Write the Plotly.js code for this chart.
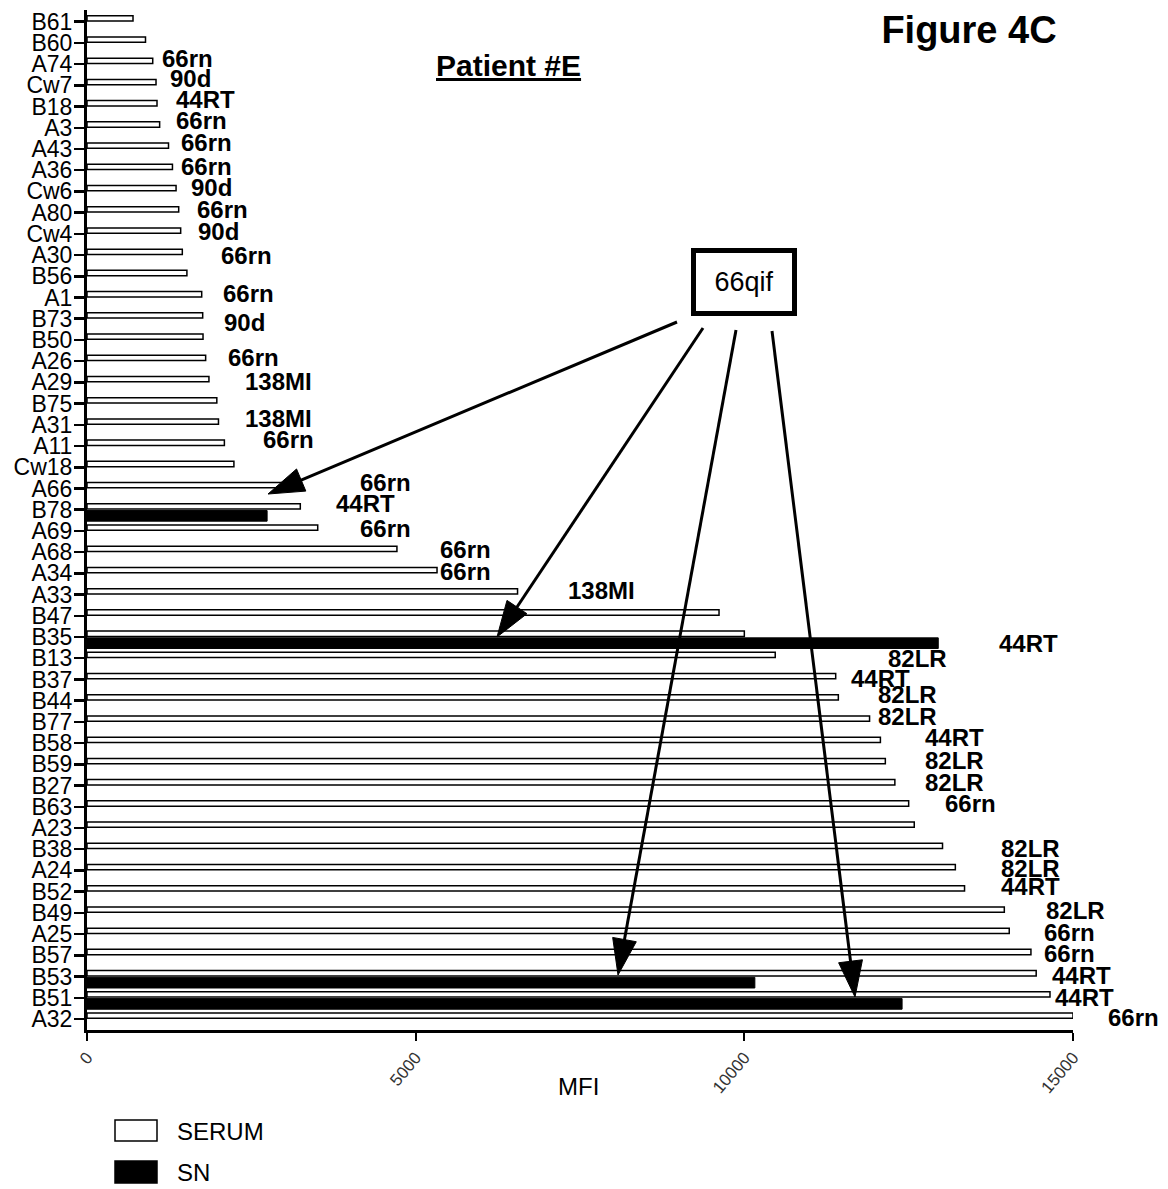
<!DOCTYPE html>
<html><head><meta charset="utf-8">
<script src="https://cdn.plot.ly/plotly-3.0.1.min.js"></script>
<style>html,body{margin:0;padding:0;background:#fff}</style>
</head><body><div id="chart" style="width:1168px;height:1189px"></div>
<script>
// ---- data ----
const categories = ['B61','B60','A74','Cw7','B18','A3','A43','A36','Cw6','A80','Cw4','A30','B56','A1','B73','B50','A26','A29','B75','A31','A11','Cw18','A66','B78','A69','A68','A34','A33','B47','B35','B13','B37','B44','B77','B58','B59','B27','B63','A23','B38','A24','B52','B49','A25','B57','B53','B51','A32'];
const serumValues = [700,890,1000,1050,1065,1105,1240,1300,1355,1395,1425,1450,1520,1745,1760,1765,1805,1855,1975,2000,2090,2235,3050,3245,3510,4715,5325,6550,9615,10000,10470,11390,11430,11905,12070,12145,12290,12500,12585,13015,13210,13350,13955,14030,14360,14440,14650,15000];
const snCategories = ['B78','B35','B53','B51'];
const snValues = [2740,12950,10160,12400];
const xTickValues = [0,5000,10000,15000];
const xTickLabels = ['0','5000','10000','15000'];
const epitopeLabels = ['66rn','90d','44RT','66rn','66rn','66rn','90d','66rn','90d','66rn','66rn','90d','66rn','138MI','138MI','66rn','66rn','44RT','66rn','66rn','66rn','138MI','44RT','82LR','44RT','82LR','82LR','44RT','82LR','82LR','66rn','82LR','82LR','44RT','82LR','66rn','66rn','44RT','44RT','66rn'];
const seriesNames = ['SERUM','SN'];

// ---- layout helpers (pixel positions of decorations) ----
const L = 87, R = 1073, T = 10, B = 1030;
function P(px, py){ return [(px - L)/(R - L), (B - py)/(B - T)]; }
const labelPx = [[187,58],[190,79],[205,99],[201,121],[206,143],[206,166],[211,187],[222,210],[218,231],[246,255],[248,293],[244,322],[253,357],[278,381],[278,418],[288,440],[385,482],[365,504],[385,528],[465,549],[465,571],[601,590],[1028,643],[917,658],[880,678],[907,694],[907,716],[954,737],[954,760],[954,782],[970,803],[1030,848],[1030,868],[1030,886],[1075,910],[1069,932],[1069,953],[1081,975],[1084,997],[1133,1017]];

const annotations = epitopeLabels.map((t,i)=>{
  const p = P(labelPx[i][0], labelPx[i][1]);
  return {text:t, xref:'paper', yref:'paper', x:p[0], y:p[1], xanchor:'center', yanchor:'middle', showarrow:false,
          font:{family:'Liberation Sans, Arial, sans-serif', size:24, color:'#000', weight:'bold'}};
});
// box
const pb = P(744, 282);
annotations.push({text:'66qif', xref:'paper', yref:'paper', x:pb[0], y:pb[1], xanchor:'center', yanchor:'middle', showarrow:false,
  width:86, height:48, borderpad:5, borderwidth:5, bordercolor:'#000', bgcolor:'#fff',
  font:{family:'Liberation Sans, Arial, sans-serif', size:27, color:'#000'}});
// Patient #E
const pp = P(508, 65);
annotations.push({text:'<b><u>Patient #E</u></b>', xref:'paper', yref:'paper', x:pp[0], y:pp[1], xanchor:'center', yanchor:'middle', showarrow:false,
  font:{family:'Liberation Sans Narrow, Liberation Sans, Arial, sans-serif', size:30, color:'#000'}});
// MFI
const pm = P(578, 1086);
annotations.push({text:'MFI', xref:'paper', yref:'paper', x:pm[0], y:pm[1], xanchor:'center', yanchor:'middle', showarrow:false,
  font:{family:'Liberation Sans, Arial, sans-serif', size:24, color:'#000'}});
// legend text
const ps = P(175, 1131), pn = P(175, 1172);
annotations.push({text:seriesNames[0], xref:'paper', yref:'paper', x:ps[0], y:ps[1], xanchor:'left', yanchor:'middle', showarrow:false,
  font:{family:'Liberation Sans, Arial, sans-serif', size:24, color:'#000'}});
annotations.push({text:seriesNames[1], xref:'paper', yref:'paper', x:pn[0], y:pn[1], xanchor:'left', yanchor:'middle', showarrow:false,
  font:{family:'Liberation Sans, Arial, sans-serif', size:24, color:'#000'}});

// shapes: arrows + legend swatches
const shapes = [];
function arrow(tx, ty, hx, hy){
  const dx = hx - tx, dy = hy - ty, len = Math.hypot(dx, dy);
  const ux = dx/len, uy = dy/len, nx = -uy, ny = ux;
  const hl = 36, hw = 12;
  const bx = hx - ux*hl, by = hy - uy*hl;
  const a = P(tx, ty), b = P(bx + ux*2, by + uy*2);
  shapes.push({type:'line', xref:'paper', yref:'paper', x0:a[0], y0:a[1], x1:b[0], y1:b[1], line:{color:'#000', width:3}});
  const h = P(hx, hy), c1 = P(bx + nx*hw, by + ny*hw), c2 = P(bx - nx*hw, by - ny*hw);
  shapes.push({type:'path', xref:'paper', yref:'paper', path:`M${h[0]},${h[1]} L${c1[0]},${c1[1]} L${c2[0]},${c2[1]} Z`,
    fillcolor:'#000', line:{color:'#000', width:1}});
}
arrow(677, 322, 268, 494);
arrow(703, 328, 497, 637);
arrow(736, 330, 618, 975);
arrow(772, 331, 855, 997);
function rect(x0, y0, x1, y1, fill){
  const a = P(x0, y0), b = P(x1, y1);
  shapes.push({type:'rect', xref:'paper', yref:'paper', x0:a[0], y0:a[1], x1:b[0], y1:b[1], fillcolor:fill, line:{color:'#000', width:1.5}});
}
rect(115, 1120, 157, 1141, '#fff');
rect(115, 1161, 157, 1183, '#000');

const traces = [
  {type:'bar', orientation:'h', name:seriesNames[0], y:categories, x:serumValues, offset:-0.28, width:0.25,
   marker:{color:'#fff', line:{color:'#000', width:1.5}}, showlegend:false},
  {type:'bar', orientation:'h', name:seriesNames[1], y:snCategories, x:snValues, offset:0.04, width:0.5,
   marker:{color:'#000', line:{color:'#000', width:1}}, showlegend:false}
];

const layout = {
  width:1168, height:1189,
  margin:{l:L, r:1168-R, t:T, b:1189-B, pad:0},
  paper_bgcolor:'#fff', plot_bgcolor:'#fff',
  barmode:'overlay',
  title:{text:'<b>Figure 4C</b>', x:969/1168, xanchor:'center', xref:'container', y:1-30/1189, yanchor:'middle', yref:'container',
         font:{family:'Liberation Sans, Arial, sans-serif', size:38, color:'#000'}},
  xaxis:{range:[0,15000], tickmode:'array', tickvals:xTickValues, ticktext:xTickLabels, ticks:'outside', ticklen:8, tickwidth:2, tickcolor:'#000',
         showline:true, linewidth:3, linecolor:'#000', showgrid:false, zeroline:false, tickangle:-50, automargin:false,
         tickfont:{family:'Liberation Sans, Arial, sans-serif', size:17, color:'#333'}},
  yaxis:{type:'category', categoryorder:'array', categoryarray:categories, tickmode:'array', tickvals:categories, ticktext:categories,
         range:[47.52,-0.55], autorange:false,
         ticks:'outside', ticklen:10, tickwidth:2.5, tickcolor:'#000', showline:true, linewidth:3, linecolor:'#000',
         showgrid:false, zeroline:false, automargin:false, ticklabelstandoff:-3,
         tickfont:{family:'Liberation Sans, Arial, sans-serif', size:23, color:'#000'}},
  annotations:annotations,
  shapes:shapes,
  showlegend:false
};
Plotly.newPlot('chart', traces, layout, {displayModeBar:false, staticPlot:true});
</script></body></html>
